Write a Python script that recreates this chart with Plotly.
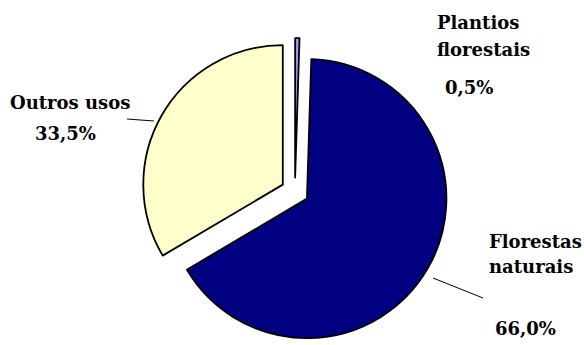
import plotly.graph_objects as go

# Land use shares (%)
categories = ["Plantios florestais", "Florestas naturais", "Outros usos"]
shares = [0.5, 66.0, 33.5]
colors = ["#9999FF", "#000080", "#FFFFCC"]

W, H = 584, 345
FONT = dict(family="DejaVu Serif", size=18, color="#000000", weight="bold")


def pct(v):
    return f"{v:.1f}%".replace(".", ",")


def px(x):
    return x / W


def py(y):
    return 1 - y / H


fig = go.Figure(
    go.Pie(
        labels=categories,
        values=shares,
        sort=False,
        direction="clockwise",
        rotation=0,
        pull=[0.1, 0.1, 0.1],
        marker=dict(colors=colors, line=dict(color="#000000", width=1.8)),
        textinfo="none",
        hoverinfo="label+percent",
        showlegend=False,
        domain=dict(x=[0.205, 0.805], y=[0.0, 0.8896]),
    )
)

# Label blocks: name lines with their anchor, then the value line
label_layout = {
    "Plantios florestais": dict(lines=["Plantios", "florestais"], x=435, ys=[23, 50],
                                xa="left", vx=443, vy=88, vxa="left"),
    "Florestas naturais": dict(lines=["Florestas", "naturais"], x=487, ys=[241, 266],
                               xa="left", vx=525, vy=328, vxa="center"),
    "Outros usos": dict(lines=["Outros usos"], x=70, ys=[102],
                        xa="center", vx=65, vy=133, vxa="center"),
}

annotations = []
for name, value in zip(categories, shares):
    spec = label_layout[name]
    for line, y in zip(spec["lines"], spec["ys"]):
        annotations.append(dict(
            text=line, x=px(spec["x"]), y=py(y), xref="paper", yref="paper",
            xanchor=spec["xa"], yanchor="middle", showarrow=False, font=FONT,
        ))
    annotations.append(dict(
        text=pct(value), x=px(spec["vx"]), y=py(spec["vy"]), xref="paper", yref="paper",
        xanchor=spec["vxa"], yanchor="middle", showarrow=False, font=FONT,
    ))

# Leader lines from labels to slices
leaders = [((127, 119), (154, 121)), ((433, 278), (483, 298))]
shapes = [
    dict(type="line", xref="paper", yref="paper",
         x0=px(a[0]), y0=py(a[1]), x1=px(b[0]), y1=py(b[1]),
         line=dict(color="#000000", width=1))
    for a, b in leaders
]

fig.update_layout(
    width=W,
    height=H,
    margin=dict(l=0, r=0, t=0, b=0),
    paper_bgcolor="#FFFFFF",
    plot_bgcolor="#FFFFFF",
    annotations=annotations,
    shapes=shapes,
)

fig.write_html("out.html")
